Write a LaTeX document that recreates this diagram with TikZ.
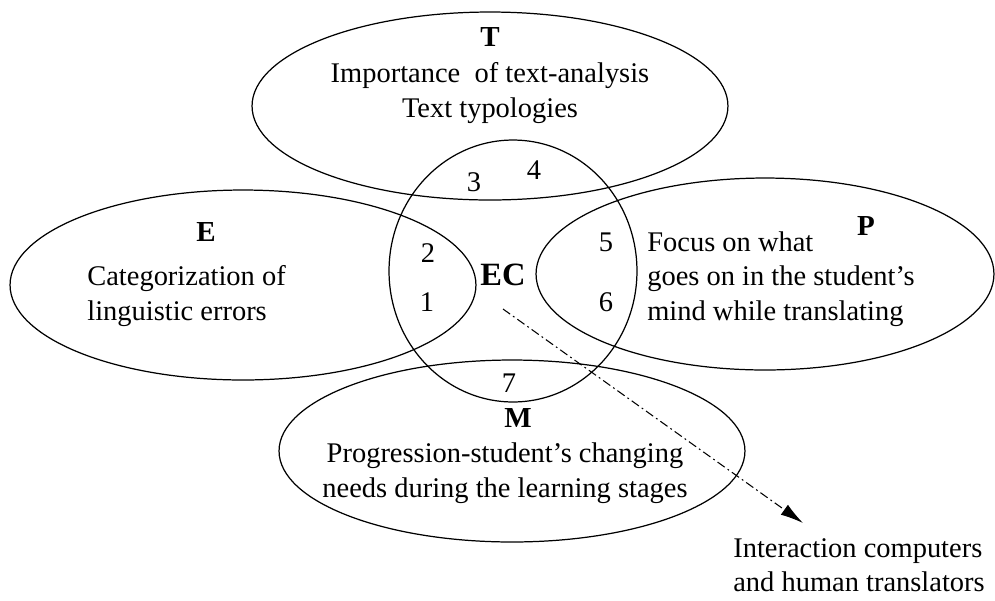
\documentclass[tikz,border=0pt]{standalone}
\usepackage{fontspec}
\setmainfont{Liberation Serif}
\usetikzlibrary{shapes.geometric,arrows.meta}

\begin{document}
\begin{tikzpicture}[x = 0.02cm, y = -0.02cm,
  font = \fontsize{16.2}{19.6}\selectfont,
  ring/.style = {draw, ellipse, line width = 0.7pt, inner sep = 0pt},
  head/.style = {font = \fontsize{16.5}{19.6}\selectfont\bfseries, inner sep = 0pt},
  txt/.style = {inner sep = 0pt},
  flow/.style = {line width = 0.6pt, dash pattern = on 5pt off 2pt on 1pt off 2pt, -{Latex[length = 13pt, width = 7pt]}}]
\useasboundingbox (0,0) rectangle (995,600);

% the five regions
\node[ring, minimum width = 9.52cm, minimum height = 3.76cm] (T) at (490,106) {};
\node[ring, minimum width = 9.32cm, minimum height = 3.80cm] (E) at (243,285) {};
\node[ring, minimum width = 9.16cm, minimum height = 3.84cm] (P) at (765,274) {};
\node[ring, minimum width = 9.32cm, minimum height = 3.64cm] (M) at (512,451) {};
\node[ring, minimum width = 4.96cm, minimum height = 5.24cm] (EC) at (513,271) {};

% titles
\node[head] (Tlab) at (490,37) {T};
\node[head] (Elab) at (206,232) {E};
\node[head] (Plab) at (866,226) {P};
\node[head] (Mlab) at (518,418) {M};
\node[head, font = \fontsize{18.5}{20}\selectfont\bfseries] (EClab) at (503,275) {EC};

\node[txt, align = center] (Ttxt) at (490,93) {Importance\ \ of text-analysis\\Text typologies};
\node[txt, align = left, anchor = west] (Etxt) at (87,296) {Categorization of\\linguistic errors};
\node[txt, align = left, anchor = west] (Ptxt) at (647,279) {Focus on what\\goes on in the student's\\mind while translating};
\node[txt, align = center] (Mtxt) at (505,473) {Progression-student's changing\\needs during the learning stages};

% overlaps
\node[txt] (n1) at (427,302) {1};
\node[txt] (n2) at (428,253) {2};
\node[txt] (n3) at (474,182) {3};
\node[txt] (n4) at (534,170) {4};
\node[txt] (n5) at (606,242) {5};
\node[txt] (n6) at (606,302) {6};
\node[txt] (n7) at (509,383) {7};

% outlook
\node[txt, align = left, anchor = west] (Itxt) at (733,565) {Interaction computers\\and human translators};
\coordinate (tail) at (503,309);
\coordinate (tip) at (803,523);
\draw[flow] (tail) -- (tip);
\end{tikzpicture}
\end{document}
